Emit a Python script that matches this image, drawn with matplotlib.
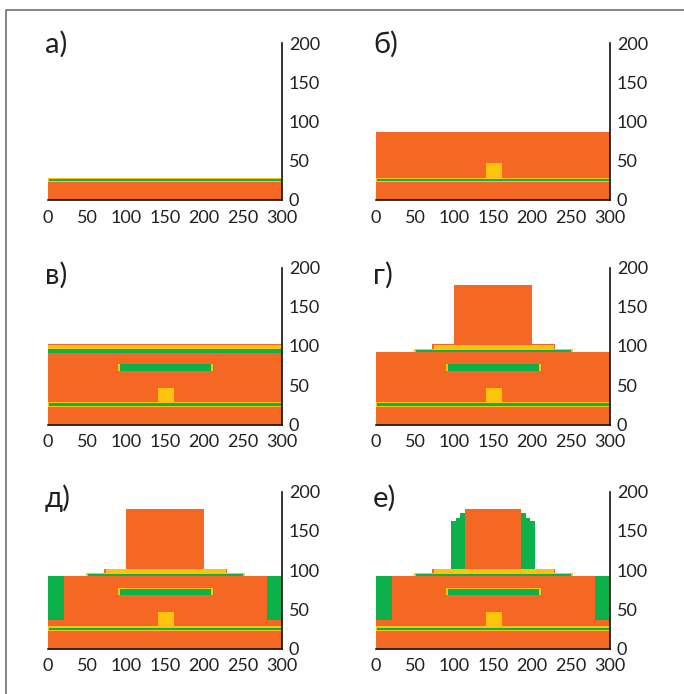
"""
Layer stacks of a transistor structure, six process steps
"""

import matplotlib
matplotlib.use('Agg')
import matplotlib.pyplot as plt
from matplotlib.lines import Line2D

plt.rcParams['font.family'] = ['Lato', 'Noto Sans', 'DejaVu Sans']

ORANGE = '#f56823'
GREEN = '#0db14b'
YELLOW = '#ffc20e'

# every layer is (x0, x1, y0, y1)
x_ticks = [0, 50, 100, 150, 200, 250, 300]
y_ticks = [0, 50, 100, 150, 200]
panel_names = ['а)', 'б)', 'в)', 'г)', 'д)', 'е)']

substrate = (0, 300, 0, 23)
gate_oxide = (0, 300, 22.5, 28.5)
gate_metal = (1, 300, 24, 27)
gate_pad = (141, 162, 28.5, 47)
thick_oxide = (0, 300, 28.5, 87)
mid_oxide = (0, 300, 28.5, 92)
mid_pad = (90, 211.5, 68, 77)
mid_metal = (92, 209, 68.5, 76.5)
top_metal_full = (0, 300, 91, 96)
top_pad_full = (0, 300, 96, 102)
top_edge_full = (0, 300, 101.5, 102.5)
top_pad = (49, 252, 92, 96.5)
top_metal = (51, 250, 92.7, 95.3)
cap_edge = (72, 229.5, 96.5, 102)
cap = (74, 228, 96.5, 101)
block = (100, 200, 102, 178)
narrow_block = (114, 186, 102, 178)
side_left = (0, 21, 36.5, 92)
side_right = (281, 300, 36.5, 92)
spacer = [(96.5, 103, 102, 163), (103, 108, 102, 167), (108, 114, 102, 172.5),
          (186, 192, 102, 172.5), (192, 198, 102, 167), (198, 204, 102, 163)]

base = [(substrate, ORANGE), (gate_oxide, YELLOW), (gate_metal, GREEN)]
middle = [(mid_pad, YELLOW), (mid_metal, GREEN), (gate_pad, YELLOW)]
upper = [(top_pad, YELLOW), (top_metal, GREEN), (cap_edge, ORANGE), (cap, YELLOW)]

panels = [
    base,
    base + [(thick_oxide, ORANGE), (gate_pad, YELLOW)],
    base + [(mid_oxide, ORANGE)] + middle + [(top_metal_full, GREEN), (top_pad_full, YELLOW), (top_edge_full, ORANGE)],
    base + [(mid_oxide, ORANGE)] + middle + upper + [(block, ORANGE)],
    base + [(mid_oxide, ORANGE), (side_left, GREEN), (side_right, GREEN)] + middle + upper + [(block, ORANGE)],
    base + [(mid_oxide, ORANGE), (side_left, GREEN), (side_right, GREEN)] + middle + upper
    + [(s, GREEN) for s in spacer] + [(narrow_block, ORANGE)],
]

W, H = 684, 694
fig = plt.figure(figsize=(W / 100, H / 100), dpi=100)

lefts = [48, 376]
bottoms = [200, 424.5, 648.7]
label_y = [44.5, 275.5, 498.5]

for i, layers in enumerate(panels):
    col = i % 2
    row = i // 2
    ax = fig.add_axes([lefts[col] / W, 1 - bottoms[row] / H, 234 / W, 157 / H])
    for (x0, x1, y0, y1), color in layers:
        ax.bar(x0, y1 - y0, x1 - x0, bottom=y0, align='edge', color=color, linewidth=0)
    ax.set_xlim(0, 300)
    ax.set_ylim(0, 200)
    ax.yaxis.tick_right()
    ax.set_xticks(x_ticks)
    ax.set_yticks(y_ticks)
    ax.tick_params(length=0, labelsize=13, labelcolor='#231f20')
    ax.tick_params(axis='x', pad=7)
    ax.tick_params(axis='y', pad=5)
    for side in ['top', 'left']:
        ax.spines[side].set_visible(False)
    for side in ['right', 'bottom']:
        ax.spines[side].set_linewidth(1.2)
        ax.spines[side].set_color('#111111')
    fig.text((lefts[col] - 3) / W, 1 - label_y[row] / H, panel_names[i],
             fontsize=21, color='#231f20', va='center', ha='left')

# frame of the figure, open at the right and the bottom
fig.add_artist(Line2D([6 / W, 6 / W, 1], [0, 1 - 9.5 / H, 1 - 9.5 / H],
                      color='#6d6e71', linewidth=1.2, transform=fig.transFigure))

fig.savefig('out.png', dpi=100)
